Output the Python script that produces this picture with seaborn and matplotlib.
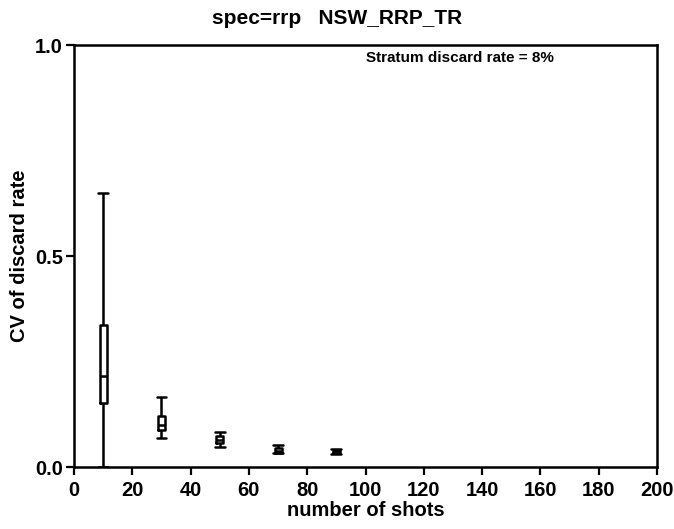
import matplotlib
matplotlib.use("Agg")
import matplotlib.pyplot as plt
import seaborn as sns
import pandas as pd

# number of shots (group positions)
shots = [10, 30, 50, 70, 90]
# five-number summaries of CV per group: min, q1, median, q3, max
cv_min = [0.000, 0.068, 0.047, 0.032, 0.031]
cv_q1 = [0.152, 0.088, 0.056, 0.033, 0.032]
cv_med = [0.216, 0.099, 0.064, 0.039, 0.037]
cv_q3 = [0.336, 0.122, 0.073, 0.044, 0.041]
cv_max = [0.650, 0.166, 0.084, 0.052, 0.043]

rows = []
for i, s in enumerate(shots):
    for v in (cv_min[i], cv_q1[i], cv_med[i], cv_q3[i], cv_max[i]):
        rows.append({"shots": s, "cv": v})
df = pd.DataFrame(rows)

sns.set_theme(style="ticks")
plt.rcParams["font.family"] = ["Liberation Sans", "DejaVu Sans"]
plt.rcParams["font.weight"] = "bold"
plt.rcParams["text.color"] = "black"
plt.rcParams["axes.labelcolor"] = "black"
plt.rcParams["xtick.color"] = "black"
plt.rcParams["ytick.color"] = "black"

fig = plt.figure(figsize=(6.74, 5.29), dpi=100)
ax = fig.add_axes([0.1098, 0.1172, 0.865, 0.7977])

sns.boxplot(data=df, x="shots", y="cv", native_scale=True, width=0.12,
            whis=(0, 100), fill=False, color="black", linecolor="black",
            linewidth=1.8, showfliers=False, capwidths=3.4, ax=ax)

ax.set_xlim(0, 200)
ax.set_ylim(0, 1.0)
ax.set_xticks(range(0, 201, 20))
ax.set_yticks([0.0, 0.5, 1.0])
ax.set_yticklabels(["0.0", "0.5", "1.0"])
for sp in ax.spines.values():
    sp.set_visible(True)
    sp.set_linewidth(1.8)
    sp.set_color("black")
ax.tick_params(axis="both", direction="out", length=6, width=1.6,
               labelsize=14.5, colors="black", labelcolor="black")
ax.tick_params(axis="x", pad=4)
ax.tick_params(axis="y", pad=2)
for lab in ax.get_xticklabels() + ax.get_yticklabels():
    lab.set_fontweight("bold")

ax.set_xlabel("number of shots", fontsize=14.5, fontweight="bold", labelpad=1,
              color="black")
ax.set_ylabel("CV of discard rate", fontsize=14.5, fontweight="bold",
              labelpad=4, color="black")
fig.text(0.5, 1 - 18 / 529, "spec=rrp   NSW_RRP_TR", fontsize=15,
         fontweight="bold", ha="center", va="center", color="black")
ax.text(100, 0.97, "Stratum discard rate = 8%", fontsize=11,
        fontweight="bold", ha="left", va="center", color="black")

fig.savefig("out.png", dpi=100)
